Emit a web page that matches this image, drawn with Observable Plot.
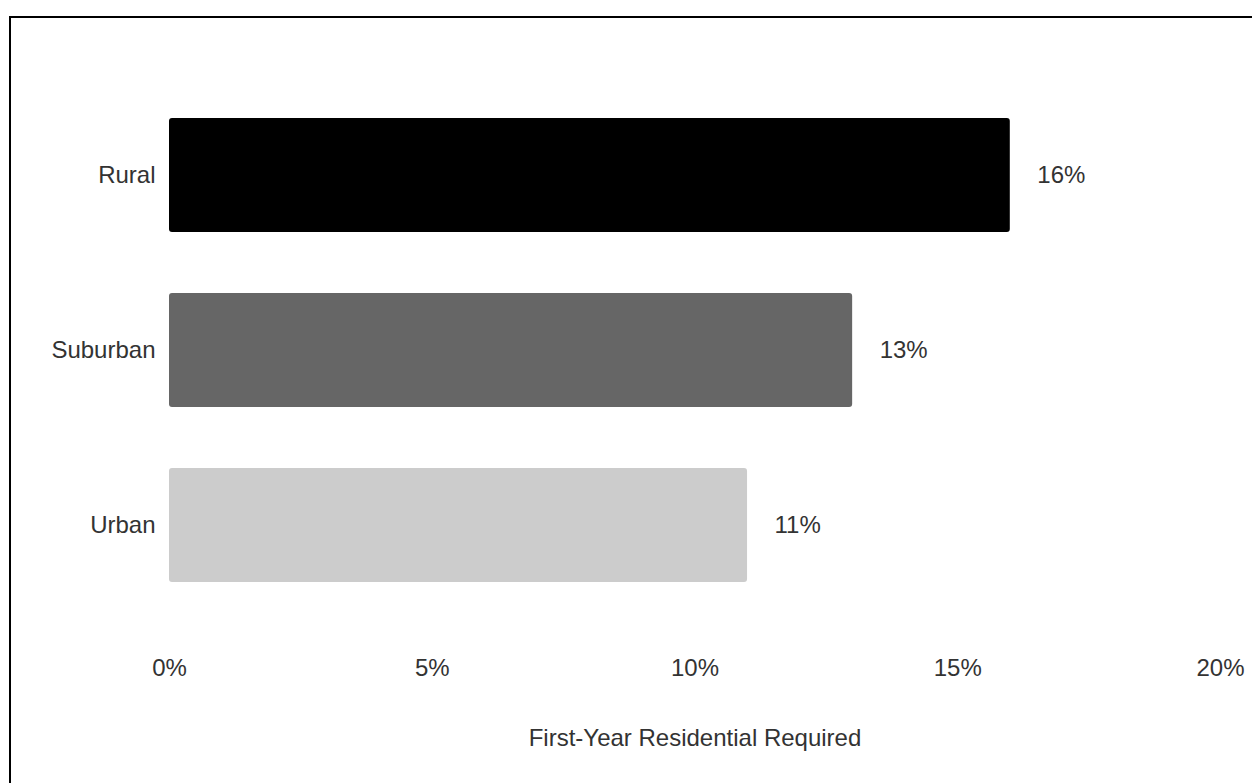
<!DOCTYPE html>
<html>
<head>
<meta charset="utf-8">
<script src="https://cdn.jsdelivr.net/npm/d3@7"></script>
<script src="https://cdn.jsdelivr.net/npm/@observablehq/plot@0.6"></script>
<style>
  html, body { margin: 0; padding: 0; background: #fff; overflow: hidden; }
  #wrap { position: relative; width: 1252px; height: 783px; }
  #frame { position: absolute; left: 9px; top: 16px; width: 1400px; height: 900px;
           border-left: 2px solid #000; border-top: 2px solid #000; box-sizing: border-box; pointer-events: none; }
  #chart { position: absolute; left: 0; top: 0; }
</style>
</head>
<body>
<div id="wrap"><div id="chart"></div><div id="frame"></div></div>
<script>
const categories = ["Rural", "Suburban", "Urban"];
const values = [16, 13, 11];
const colors = ["#000000", "#666666", "#cccccc"];
const xTicks = [0, 5, 10, 15, 20];
const xLabel = "First-Year Residential Required";

const data = categories.map((c, i) => ({category: c, value: values[i], color: colors[i]}));

const chart = Plot.plot({
  width: 1252,
  height: 783,
  marginLeft: 169,
  marginRight: 32,
  marginTop: 117,
  marginBottom: 200,
  style: {fontFamily: "'Liberation Sans', Arial, sans-serif", fontSize: "24px", color: "#333", background: "transparent"},
  x: {domain: [0, 20]},
  y: {domain: categories, paddingInner: 0.347, paddingOuter: 0},
  marks: [
    Plot.barX(data, {x: "value", y: "category", fill: "color", rx: 3}),
    Plot.text(data, {x: "value", y: "category", text: d => d.value + "%", textAnchor: "start", dx: 27, fill: "#333", fontSize: 24}),
    Plot.axisY({tickSize: 0, tickPadding: 14, label: null, fontSize: 24, fill: "#333"}),
    Plot.axisX({ticks: xTicks, tickFormat: d => d + "%", tickSize: 0, tickPadding: 75, label: xLabel, labelAnchor: "center", labelArrow: "none", labelOffset: 162, fontSize: 24, fill: "#333"})
  ]
});
document.getElementById("chart").appendChild(chart);
</script>
</body>
</html>
